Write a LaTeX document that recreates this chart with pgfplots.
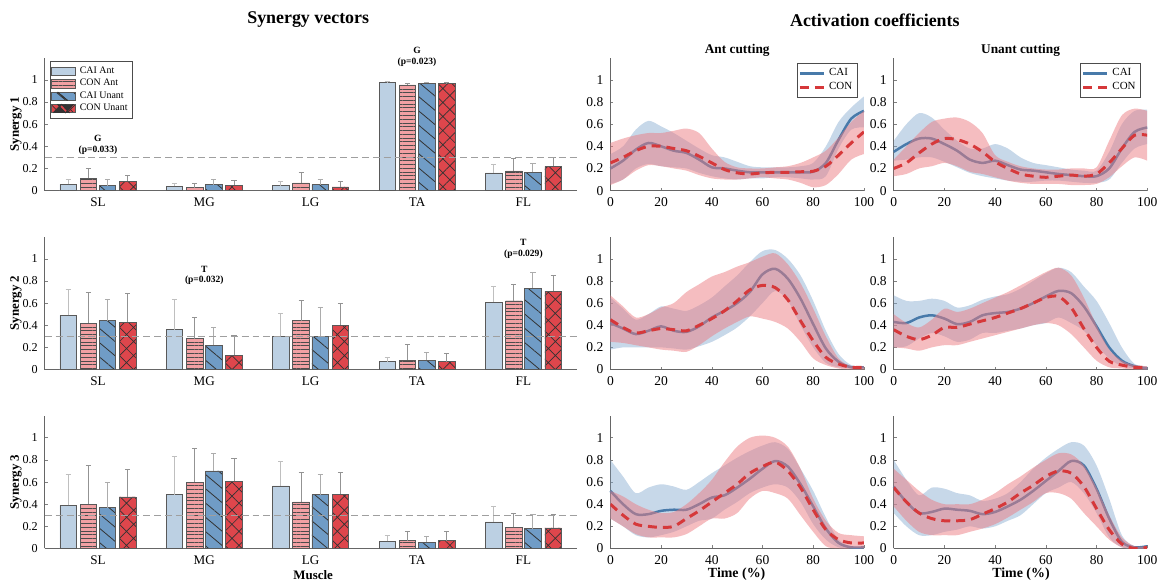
\documentclass[border=0pt]{standalone}
\usepackage{fontspec}
\setmainfont{Liberation Serif}
\usepackage{pgfplots}
\usepackage{pgfplotstable}
\pgfplotsset{compat=1.18}
\usepgfplotslibrary{fillbetween}
\usetikzlibrary{patterns.meta}

\definecolor{caiant}{RGB}{188,208,227}
\definecolor{conant}{RGB}{241,160,163}
\definecolor{caiunant}{RGB}{112,156,198}
\definecolor{conunant}{RGB}{222,70,76}
\definecolor{cailine}{RGB}{72,122,170}
\definecolor{conline}{RGB}{214,56,58}
\definecolor{caiband}{RGB}{130,168,206}
\definecolor{conband}{RGB}{236,124,130}

% bar data: value and upper error for each series
\pgfplotstableread{
k a ea b eb c ec d ed
1 0.057 0.042 0.110 0.090 0.045 0.055 0.085 0.055
2 0.040 0.020 0.027 0.033 0.054 0.042 0.050 0.038
3 0.045 0.039 0.069 0.096 0.054 0.045 0.033 0.051
4 0.975 0.010 0.955 0.012 0.970 0.008 0.965 0.012
5 0.160 0.074 0.177 0.110 0.165 0.078 0.219 0.080
}\synA
\pgfplotstableread{
k a ea b eb c ec d ed
1 0.490 0.230 0.420 0.280 0.440 0.190 0.425 0.265
2 0.360 0.270 0.280 0.190 0.220 0.160 0.130 0.180
3 0.300 0.210 0.440 0.180 0.300 0.260 0.400 0.200
4 0.070 0.040 0.085 0.140 0.085 0.072 0.070 0.078
5 0.610 0.140 0.620 0.150 0.735 0.145 0.705 0.145
}\synB
\pgfplotstableread{
k a ea b eb c ec d ed
1 0.390 0.280 0.400 0.350 0.370 0.230 0.465 0.250
2 0.485 0.345 0.600 0.300 0.700 0.160 0.605 0.205
3 0.565 0.225 0.420 0.265 0.485 0.185 0.490 0.200
4 0.063 0.051 0.070 0.080 0.057 0.053 0.070 0.080
5 0.240 0.135 0.190 0.125 0.180 0.130 0.185 0.125
}\synC

% activation data: t, CAI mean/upper/lower, CON mean/upper/lower
\pgfplotstableread{
t cm cu cl nm nu nl
0 0.20 0.33 0.06 0.25 0.43 0.05
5 0.27 0.40 0.10 0.30 0.47 0.10
10 0.37 0.55 0.20 0.36 0.50 0.18
15 0.43 0.63 0.24 0.40 0.52 0.23
20 0.40 0.58 0.22 0.40 0.52 0.22
25 0.36 0.52 0.21 0.38 0.54 0.20
30 0.34 0.45 0.20 0.36 0.56 0.18
35 0.28 0.38 0.16 0.31 0.52 0.14
40 0.21 0.32 0.13 0.25 0.38 0.11
45 0.20 0.30 0.11 0.19 0.26 0.10
50 0.18 0.26 0.10 0.16 0.21 0.10
55 0.165 0.22 0.11 0.15 0.20 0.11
60 0.165 0.21 0.11 0.16 0.20 0.12
65 0.165 0.21 0.12 0.165 0.21 0.11
70 0.165 0.21 0.12 0.165 0.22 0.10
75 0.165 0.22 0.11 0.17 0.25 0.07
80 0.17 0.25 0.10 0.175 0.30 0.03
85 0.25 0.40 0.13 0.22 0.36 0.05
90 0.46 0.62 0.38 0.32 0.48 0.15
95 0.65 0.75 0.55 0.43 0.62 0.28
100 0.72 0.85 0.57 0.53 0.72 0.33
}\actAa
\pgfplotstableread{
t cm cu cl nm nu nl
0 0.35 0.45 0.27 0.20 0.28 0.13
5 0.42 0.60 0.28 0.25 0.40 0.15
10 0.47 0.70 0.30 0.34 0.52 0.20
15 0.47 0.66 0.30 0.42 0.62 0.22
20 0.42 0.55 0.26 0.47 0.65 0.25
25 0.36 0.45 0.21 0.46 0.66 0.22
30 0.28 0.38 0.16 0.42 0.62 0.17
35 0.25 0.38 0.13 0.35 0.52 0.15
40 0.27 0.42 0.11 0.26 0.32 0.12
45 0.23 0.38 0.09 0.20 0.26 0.09
50 0.19 0.30 0.08 0.15 0.22 0.07
55 0.18 0.25 0.08 0.13 0.20 0.06
60 0.165 0.23 0.09 0.12 0.19 0.06
65 0.15 0.21 0.09 0.13 0.19 0.06
70 0.14 0.19 0.08 0.14 0.20 0.05
75 0.13 0.18 0.07 0.13 0.20 0.05
80 0.13 0.18 0.07 0.15 0.21 0.06
85 0.20 0.35 0.10 0.25 0.45 0.12
90 0.38 0.60 0.25 0.38 0.68 0.22
95 0.53 0.72 0.38 0.50 0.74 0.30
100 0.57 0.73 0.42 0.50 0.72 0.27
}\actAb
\pgfplotstableread{
t cm cu cl nm nu nl
0 0.42 0.65 0.18 0.45 0.67 0.25
5 0.37 0.55 0.20 0.38 0.57 0.24
10 0.32 0.45 0.20 0.33 0.47 0.22
15 0.35 0.50 0.20 0.35 0.50 0.20
20 0.39 0.57 0.20 0.37 0.56 0.18
25 0.35 0.55 0.19 0.36 0.60 0.17
30 0.34 0.53 0.18 0.35 0.70 0.16
35 0.39 0.58 0.21 0.40 0.77 0.22
40 0.47 0.65 0.25 0.46 0.84 0.30
45 0.53 0.75 0.31 0.53 0.88 0.37
50 0.60 0.85 0.38 0.62 0.93 0.43
55 0.70 0.97 0.48 0.72 0.97 0.48
60 0.86 1.07 0.60 0.76 1.02 0.46
65 0.91 1.08 0.71 0.74 1.05 0.43
70 0.82 1.00 0.62 0.63 0.95 0.37
75 0.64 0.85 0.40 0.44 0.78 0.25
80 0.41 0.62 0.20 0.26 0.55 0.10
85 0.19 0.35 0.06 0.11 0.30 0.04
90 0.07 0.14 0.02 0.05 0.10 0.01
95 0.02 0.04 0.01 0.02 0.03 0.00
100 0.02 0.03 0.01 0.02 0.03 0.00
}\actBa
\pgfplotstableread{
t cm cu cl nm nu nl
0 0.43 0.67 0.20 0.36 0.50 0.20
5 0.42 0.62 0.21 0.30 0.42 0.19
10 0.47 0.62 0.28 0.27 0.38 0.17
15 0.49 0.64 0.33 0.31 0.45 0.20
20 0.46 0.62 0.30 0.38 0.55 0.22
25 0.41 0.56 0.25 0.38 0.52 0.22
30 0.43 0.58 0.27 0.41 0.55 0.25
35 0.49 0.63 0.33 0.44 0.60 0.28
40 0.51 0.66 0.33 0.47 0.65 0.31
45 0.52 0.68 0.35 0.51 0.70 0.34
50 0.55 0.73 0.37 0.55 0.76 0.37
55 0.60 0.80 0.40 0.60 0.82 0.40
60 0.66 0.87 0.42 0.65 0.88 0.42
65 0.71 0.92 0.47 0.66 0.92 0.40
70 0.69 0.88 0.42 0.56 0.85 0.32
75 0.57 0.75 0.35 0.37 0.65 0.20
80 0.39 0.62 0.22 0.20 0.40 0.08
85 0.20 0.42 0.10 0.075 0.18 0.02
90 0.08 0.20 0.03 0.04 0.08 0.01
95 0.03 0.05 0.01 0.02 0.04 0.00
100 0.01 0.03 0.00 0.02 0.03 0.00
}\actBb
\pgfplotstableread{
t cm cu cl nm nu nl
0 0.52 0.80 0.27 0.40 0.52 0.27
5 0.40 0.65 0.20 0.30 0.47 0.20
10 0.31 0.50 0.12 0.22 0.40 0.13
15 0.31 0.55 0.10 0.20 0.35 0.10
20 0.34 0.58 0.12 0.19 0.32 0.10
25 0.35 0.56 0.15 0.20 0.33 0.10
30 0.35 0.53 0.20 0.27 0.40 0.13
35 0.40 0.60 0.25 0.34 0.50 0.20
40 0.46 0.68 0.27 0.42 0.62 0.27
45 0.48 0.75 0.35 0.50 0.78 0.27
50 0.55 0.82 0.42 0.58 0.92 0.32
55 0.63 0.88 0.50 0.68 1.00 0.45
60 0.72 0.93 0.55 0.74 1.02 0.52
65 0.79 0.96 0.58 0.78 1.00 0.50
70 0.74 0.90 0.55 0.70 0.92 0.45
75 0.58 0.72 0.42 0.55 0.72 0.30
80 0.38 0.52 0.22 0.35 0.45 0.15
85 0.18 0.28 0.08 0.17 0.25 0.02
90 0.05 0.08 0.01 0.08 0.14 0.00
95 0.01 0.02 0.00 0.05 0.12 0.00
100 0.01 0.02 0.00 0.05 0.11 0.00
}\actCa
\pgfplotstableread{
t cm cu cl nm nu nl
0 0.56 0.80 0.32 0.55 0.72 0.38
5 0.42 0.62 0.20 0.42 0.62 0.25
10 0.32 0.48 0.12 0.32 0.52 0.15
15 0.33 0.55 0.12 0.27 0.44 0.12
20 0.36 0.54 0.15 0.25 0.40 0.12
25 0.35 0.50 0.17 0.25 0.40 0.12
30 0.34 0.48 0.20 0.26 0.40 0.15
35 0.31 0.43 0.18 0.31 0.44 0.18
40 0.33 0.45 0.20 0.36 0.50 0.22
45 0.38 0.50 0.25 0.42 0.58 0.28
50 0.44 0.60 0.30 0.50 0.65 0.35
55 0.52 0.72 0.40 0.57 0.73 0.42
60 0.61 0.82 0.50 0.65 0.80 0.50
65 0.70 0.90 0.55 0.70 0.86 0.50
70 0.79 0.96 0.60 0.68 0.85 0.45
75 0.75 0.93 0.50 0.56 0.75 0.32
80 0.54 0.75 0.32 0.36 0.55 0.20
85 0.27 0.45 0.10 0.17 0.30 0.08
90 0.06 0.12 0.01 0.04 0.10 0.01
95 0.01 0.02 0.00 0.00 0.02 0.00
100 0.02 0.02 0.00 0.01 0.02 0.00
}\actCb

\tikzset{annot/.style={font=\bfseries\fontsize{4.8}{5.4}\selectfont, align=center, inner sep=0pt}}

\pgfplotsset{
  common/.style={
    scale only axis, height=66.8pt, ymin=0, ymax=1.2,
    axis lines=left, axis line style={-, draw=black!60, line width=0.4pt},
    ytick={0,0.2,0.4,0.6,0.8,1},
    tick align=inside, major tick length=1.5pt,
    tick style={draw=black!50, line width=0.3pt},
    /pgf/number format/assume math mode=true,
  },
  barax/.style={common, width=267.5pt, xmin=0.5, xmax=5.5, clip=false,
    xtick={1,2,3,4,5}, xticklabels={SL,MG,LG,TA,FL},
    xtick style={draw=none},
    yticklabel style={font=\fontsize{6.1}{6.5}\selectfont},
    xticklabel style={font=\fontsize{6.6}{7}\selectfont},
    ylabel style={at={(axis description cs:-0.054,0.5)}, anchor=center,
      font=\bfseries\fontsize{6.5}{7}\selectfont},
    legend style={at={(0.0093,0.974)}, anchor=north west, draw=black!70,
      line width=0.4pt, font=\fontsize{5}{5.5}\selectfont, inner sep=0.6pt,
      row sep=-2.6pt},
    legend cell align=left,
  },
  actax/.style={common, width=127.5pt, xmin=0, xmax=100,
    xtick={0,20,40,60,80,100},
    tick label style={font=\fontsize{6.8}{7}\selectfont},
    legend style={at={(0.976,0.96)}, anchor=north east, draw=black!70,
      line width=0.4pt, font=\fontsize{5.5}{6}\selectfont, inner sep=0.6pt,
      row sep=-2.2pt},
    legend cell align=left,
  },
  barbase/.style={ybar, bar width=0.155, bar shift=0pt, draw=black!65, line width=0.35pt},
  sA/.style={barbase, fill=caiant,
    legend image code/.code={\draw[fill=caiant, draw=black!65, line width=0.35pt] (0pt,-2.1pt) rectangle (12pt,2.1pt);}},
  sB/.style={barbase, fill=conant,
    postaction={pattern={Lines[angle=0,distance=1.9pt,line width=0.3pt]},pattern color=black!70},
    legend image code/.code={\draw[fill=conant, draw=black!65, line width=0.35pt] (0pt,-2.1pt) rectangle (12pt,2.1pt);}},
  sC/.style={barbase, fill=caiunant,
    postaction={pattern={Lines[angle=-40,distance=5.5pt,line width=0.4pt]},pattern color=black!80},
    legend image code/.code={\draw[fill=caiunant, draw=black!65, line width=0.35pt] (0pt,-2.1pt) rectangle (12pt,2.1pt); \draw[black!80, line width=0.4pt] (3pt,2.1pt) -- (8pt,-2.1pt);}},
  sD/.style={barbase, fill=conunant,
    postaction={pattern={Hatch[angle=45,distance=5pt,line width=0.35pt]},pattern color=black!80},
    legend image code/.code={\draw[fill=conunant, draw=black!65, line width=0.35pt] (0pt,-2.1pt) rectangle (12pt,2.1pt); \draw[black!80, line width=0.35pt] (1pt,-2.1pt) -- (5pt,2.1pt) -- (9pt,-2.1pt) (3pt,2.1pt) -- (7pt,-2.1pt) -- (11pt,2.1pt);}},
  ebar/.style={draw=none, mark=none, forget plot, error bars/.cd, y dir=plus, y explicit,
    error bar style={draw=#1, line width=0.5pt},
    error mark options={draw=#1, rotate=90, mark size=1.3pt, line width=0.5pt}},
  caiL/.style={color=cailine, line width=1.25pt, smooth, tension=0.5, on layer=pre main,
    legend image code/.code={\draw[cailine, line width=1.25pt] (0pt,0pt) -- (12pt,0pt);}},
  conL/.style={color=conline, line width=1.5pt, smooth, tension=0.5, dash pattern=on 4.5pt off 3pt,
    legend image code/.code={\draw[conline, line width=1.5pt, dash pattern=on 4.5pt off 3pt] (0pt,0pt) -- (12pt,0pt);}},
}

\newcommand\barpanel[5]{%
\begin{axis}[barax, at={(22.5pt,#2)}, anchor=south west, ylabel={Synergy #3}, #4]
 \addplot[sA] table[x expr=\thisrow{k}-0.28, y=a]{#1};
 \addplot[sB] table[x expr=\thisrow{k}-0.09, y=b]{#1};
 \addplot[sC] table[x expr=\thisrow{k}+0.09, y=c]{#1};
 \addplot[sD] table[x expr=\thisrow{k}+0.28, y=d]{#1};
 \addplot[ebar=gray!50] table[x expr=\thisrow{k}-0.28, y=a, y error=ea]{#1};
 \addplot[ebar=gray!85] table[x expr=\thisrow{k}-0.09, y=b, y error=eb]{#1};
 \addplot[ebar=gray!65] table[x expr=\thisrow{k}+0.09, y=c, y error=ec]{#1};
 \addplot[ebar=gray!85] table[x expr=\thisrow{k}+0.28, y=d, y error=ed]{#1};
 \addplot[gray!75, line width=0.7pt, dash pattern=on 3.5pt off 2pt, forget plot] coordinates {(0.5,0.3) (5.5,0.3)};
 #5
\end{axis}}

\newcommand\actpanel[4]{%
\begin{axis}[actax, at={(#2,#3)}, anchor=south west, #4]
 \addplot[name path=cu, draw=none, smooth, tension=0.5, forget plot] table[x=t,y=cu]{#1};
 \addplot[name path=cl, draw=none, smooth, tension=0.5, forget plot] table[x=t,y=cl]{#1};
 \addplot[caiband, fill opacity=0.45, draw=none, forget plot] fill between[of=cu and cl];
 \addplot[caiL] table[x=t,y=cm]{#1};
 \addplot[name path=nu, draw=none, smooth, tension=0.5, forget plot] table[x=t,y=nu]{#1};
 \addplot[name path=nl, draw=none, smooth, tension=0.5, forget plot] table[x=t,y=nl]{#1};
 \addplot[conband, fill opacity=0.5, draw=none, forget plot] fill between[of=nu and nl];
 \addplot[conL] table[x=t,y=nm]{#1};
\end{axis}}

\begin{document}
\begin{tikzpicture}
\path (0,0) rectangle (582pt,-293pt);

\barpanel{\synA}{-95.85pt}{1}{legend entries={CAI Ant,CON Ant,CAI Unant,CON Unant}}{%
  \node[annot] at (axis cs:1,0.415) {G\\(p=0.033)};
  \node[annot] at (axis cs:4,1.21) {G\\(p=0.023)};}
\barpanel{\synB}{-185.85pt}{2}{}{%
  \node[annot] at (axis cs:2,0.85) {T\\(p=0.032)};
  \node[annot] at (axis cs:5,1.09) {T\\(p=0.029)};}
\barpanel{\synC}{-275.85pt}{3}{}{}

\actpanel{\actAa}{307pt}{-95.85pt}{legend entries={CAI,CON}}
\actpanel{\actAb}{449.5pt}{-95.85pt}{legend entries={CAI,CON}}
\actpanel{\actBa}{307pt}{-185.85pt}{}
\actpanel{\actBb}{449.5pt}{-185.85pt}{}
\actpanel{\actCa}{307pt}{-275.85pt}{}
\actpanel{\actCb}{449.5pt}{-275.85pt}{}

\node[font=\bfseries\fontsize{9}{10}\selectfont] at (155pt,-10pt) {Synergy vectors};
\node[font=\bfseries\fontsize{9}{10}\selectfont] at (440pt,-10pt) {Activation coefficients};
\node[font=\bfseries\fontsize{6.7}{7.5}\selectfont] at (370.8pt,-25.3pt) {Ant cutting};
\node[font=\bfseries\fontsize{6.7}{7.5}\selectfont] at (513.3pt,-25.3pt) {Unant cutting};
\node[font=\bfseries\fontsize{6.5}{7}\selectfont] at (157.5pt,-289pt) {Muscle};
\node[font=\bfseries\fontsize{7}{8}\selectfont] at (370.5pt,-289pt) {Time (\%)};
\node[font=\bfseries\fontsize{7}{8}\selectfont] at (513.5pt,-289pt) {Time (\%)};
\end{tikzpicture}
\end{document}
